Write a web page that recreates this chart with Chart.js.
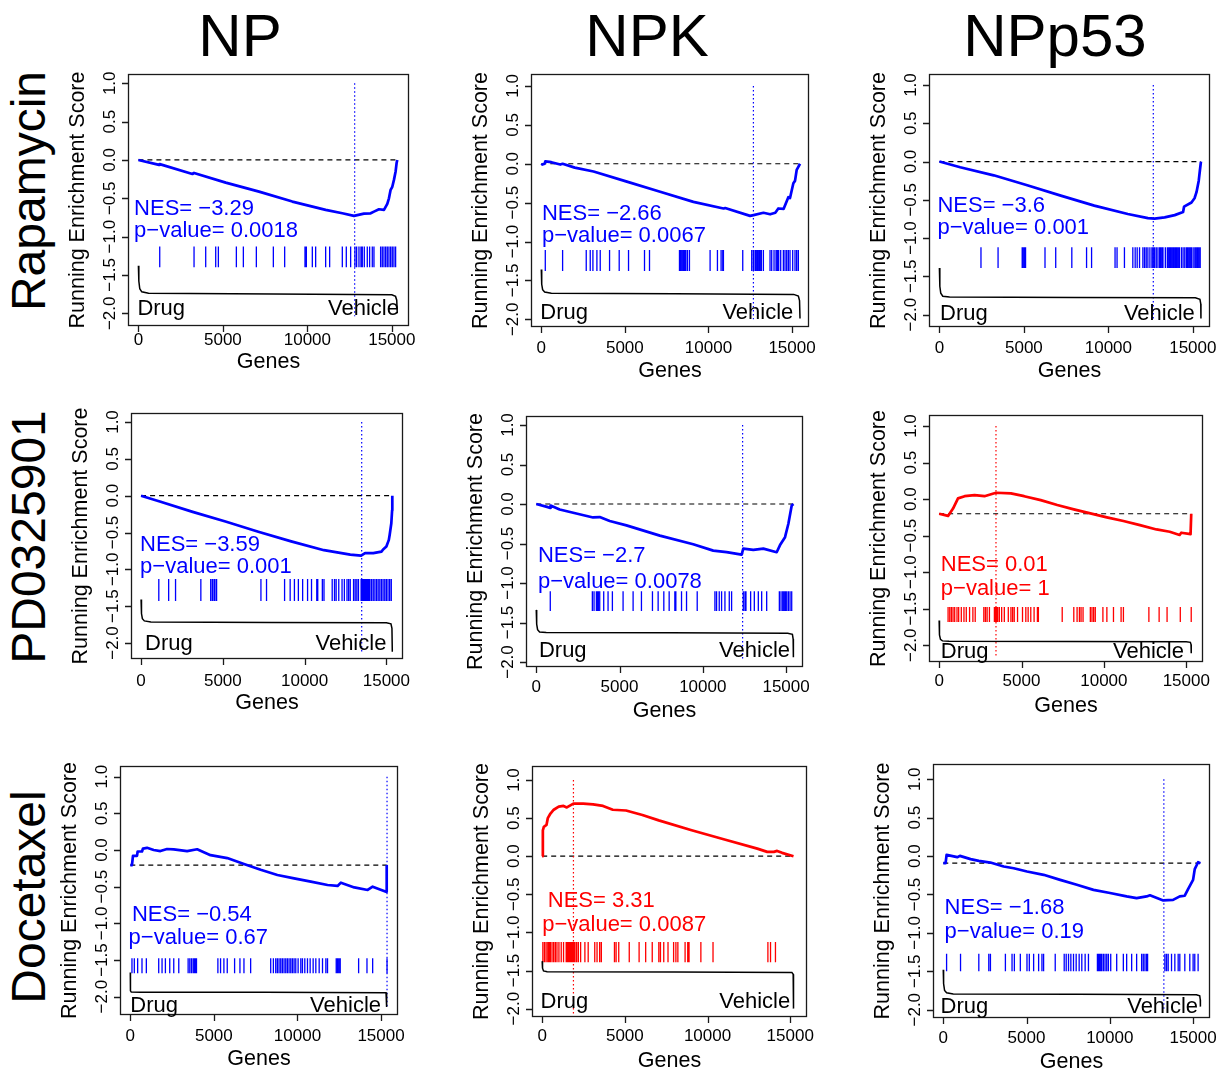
<!DOCTYPE html>
<html><head><meta charset="utf-8">
<script src="https://cdn.jsdelivr.net/npm/chart.js@4/dist/chart.umd.min.js"></script>
<style>
html,body{margin:0;padding:0;background:#fff;}
body{width:1220px;height:1072px;position:relative;overflow:hidden;font-family:"Liberation Sans",Arial,Helvetica,sans-serif;color:#000;}
canvas{position:absolute;}
.col{position:absolute;font-size:60px;line-height:60px;white-space:nowrap;transform:translateX(-50%);}
.row{position:absolute;font-size:48px;line-height:48px;white-space:nowrap;transform:translate(-50%,-50%) rotate(-90deg);}
</style>
</head><body>
<script>
// ---------------- categories & labels ----------------
const columns = ["NP", "NPK", "NPp53"];
const rows = ["Rapamycin", "PD0325901", "Docetaxel"];
const xTickValues = [0, 5000, 10000, 15000];
const yTickValues = [-2, -1.5, -1, -0.5, 0, 0.5, 1];
const yTickLabels = ["\u22122.0", "\u22121.5", "\u22121.0", "\u22120.5", "0.0", "0.5", "1.0"];
const nesLabels = ["NES= \u22123.29", "NES= \u22122.66", "NES= \u22123.6", "NES= \u22123.59", "NES= \u22122.7", "NES= 0.01", "NES= \u22120.54", "NES= 3.31", "NES= \u22121.68"];
const pLabels = ["p\u2212value= 0.0018", "p\u2212value= 0.0067", "p\u2212value= 0.001", "p\u2212value= 0.001", "p\u2212value= 0.0078", "p\u2212value= 1", "p\u2212value= 0.67", "p\u2212value= 0.0087", "p\u2212value= 0.19"];
const enrichedIn = ["Vehicle", "Vehicle", "Vehicle", "Vehicle", "Vehicle", "Drug", "Vehicle", "Drug", "Vehicle"];
const peakGene = [12800, 12690, 12660, 13490, 12390, 3450, 15360, 1890, 13245];
const zeroLevel = [0, 0, 0, 0, 0, -0.20, -0.205, 0, -0.092];

// ---------------- running enrichment scores [gene rank, ES] ----------------
const esRapaNP = [[0,0],[1223,-0.065],[1262,-0.055],[3195,-0.183],[3293,-0.17],[5167,-0.296],[7139,-0.413],[9110,-0.543],[11083,-0.652],[12069,-0.696],[12759,-0.73],[13350,-0.70],[13745,-0.696],[13942,-0.674],[14238,-0.643],[14534,-0.652],[14731,-0.574],[14829,-0.50],[14928,-0.39],[15027,-0.35],[15125,-0.26],[15224,-0.15],[15283,-0.04],[15322,0]];
const esRapaNPK = [[0,0],[60,-0.01],[200,0.0],[240,0.03],[600,0.02],[1135,-0.01],[1275,0.0],[2000,-0.05],[3127,-0.10],[5120,-0.23],[7110,-0.36],[9100,-0.49],[10900,-0.575],[11000,-0.57],[12490,-0.67],[12700,-0.66],[13290,-0.63],[13690,-0.65],[14000,-0.63],[14180,-0.575],[14500,-0.58],[14780,-0.43],[14880,-0.44],[15080,-0.25],[15179,-0.22],[15279,-0.08],[15378,-0.04],[15478,0]];
const esRapaNPp53 = [[0,0],[1230,-0.074],[3214,-0.18],[5198,-0.31],[7182,-0.445],[9166,-0.576],[11150,-0.686],[12340,-0.74],[12737,-0.745],[13332,-0.73],[13927,-0.70],[14423,-0.66],[14480,-0.59],[14919,-0.535],[15100,-0.48],[15217,-0.40],[15350,-0.25],[15416,-0.12],[15480,0]];
const esPdNP = [[0,0],[1145,-0.08],[3153,-0.22],[5161,-0.35],[7169,-0.49],[9177,-0.62],[11185,-0.74],[12791,-0.80],[13454,-0.815],[13695,-0.78],[14197,-0.78],[14699,-0.76],[14800,-0.73],[15000,-0.69],[15150,-0.60],[15202,-0.53],[15302,-0.375],[15350,-0.2],[15362,0]];
const esPdNPK = [[0,0],[700,-0.04],[842,-0.05],[860,-0.02],[1404,-0.07],[2406,-0.12],[3409,-0.17],[3810,-0.165],[4411,-0.215],[5414,-0.27],[7419,-0.40],[9424,-0.51],[10627,-0.59],[11429,-0.61],[12331,-0.64],[12431,-0.565],[13033,-0.58],[13634,-0.565],[14436,-0.61],[14637,-0.52],[14937,-0.42],[15138,-0.25],[15338,-0.02],[15439,0]];
const esPdNPp53 = [[0,-0.20],[542,-0.23],[843,-0.13],[1145,0.01],[1546,0.04],[2149,0.055],[2751,0.04],[3454,0.087],[4357,0.078],[5161,0.04],[6165,-0.014],[7169,-0.08],[8173,-0.14],[9177,-0.196],[10180,-0.25],[11185,-0.30],[12189,-0.356],[13193,-0.415],[13996,-0.447],[14598,-0.49],[14699,-0.46],[15261,-0.48],[15302,-0.20]];
const esDoceNP = [[0,-0.205],[100,-0.205],[160,-0.08],[400,-0.08],[440,-0.02],[700,-0.02],[760,0.02],[1000,0.03],[1400,0.0],[1800,-0.014],[2200,0.014],[2600,0.01],[3400,-0.014],[4000,0.01],[4800,-0.07],[5800,-0.11],[6800,-0.19],[7800,-0.27],[8800,-0.34],[9800,-0.386],[10800,-0.43],[11800,-0.477],[12400,-0.49],[12600,-0.445],[13400,-0.51],[14200,-0.545],[14500,-0.50],[15300,-0.57],[15340,-0.205]];
const esDoceNPK = [[0,0],[40,0.34],[100,0.386],[260,0.41],[340,0.50],[500,0.56],[700,0.61],[1000,0.65],[1290,0.66],[1490,0.64],[1890,0.69],[2480,0.69],[3080,0.68],[3680,0.66],[4270,0.61],[5070,0.60],[6060,0.54],[7050,0.47],[9040,0.34],[11030,0.22],[13010,0.10],[13610,0.057],[14010,0.057],[14210,0.07],[14510,0.044],[15200,0]];
const esDoceNPp53 = [[0,-0.092],[140,-0.092],[200,0.016],[840,-0.014],[1000,0.003],[1640,-0.04],[2135,-0.062],[2830,-0.084],[3630,-0.136],[4230,-0.158],[5030,-0.20],[6025,-0.244],[7020,-0.31],[8020,-0.374],[9020,-0.44],[10015,-0.48],[11010,-0.525],[11610,-0.547],[12210,-0.525],[12410,-0.51],[13210,-0.577],[13800,-0.57],[14200,-0.525],[14500,-0.516],[14700,-0.43],[15000,-0.31],[15100,-0.17],[15300,-0.08],[15440,-0.092]];

// ---------------- gene-set hit positions (rank) ----------------
const hitsRapaNP = [1262,3293,3983,4575,4733,5798,6212,6981,7987,8657,9860,9939,10294,10491,11083,11319,12069,12305,12562,12818,12917,13055,13173,13252,13370,13547,13686,13843,13942,14336,14435,14534,14632,14731,14829,14928,15027,15125,15224];
const hitsRapaNPK = [239,1275,2689,2928,3088,3327,3526,4084,4661,5219,6175,6474,8267,8346,8426,8506,8566,8645,8745,8864,10099,10538,10757,10856,10896,12052,12589,12689,12789,12848,12928,13008,13087,13167,13287,13685,13785,13924,14044,14124,14203,14323,14482,14581,14681,14781,14880,15040,15179,15279,15378];
const hitsRapaNPp53 = [2460,3472,4900,4960,5039,5099,6250,6884,7837,8710,9007,10396,10515,10952,11448,11587,11706,11845,12043,12142,12241,12340,12459,12578,12658,12737,12836,12935,13034,13094,13174,13233,13372,13491,13571,13630,13690,13769,13848,13927,13987,14047,14126,14205,14324,14423,14522,14622,14681,14761,14840,14919,15019,15118,15197,15277,15356,15436];
const hitsPdNP = [1084,1687,2108,3655,4257,4357,4458,4518,4618,7329,7671,8775,9116,9377,9618,9879,10181,10422,10743,10803,11084,11185,11687,11827,11928,12088,12289,12430,12591,12691,12791,12992,13092,13193,13293,13454,13514,13554,13594,13634,13674,13715,13755,13795,13855,13915,13996,14096,14197,14297,14398,14498,14598,14699,14799,14900,15000,15100,15201,15301];
const hitsPdNPK = [842,3368,3469,3609,3669,3729,3810,4050,4311,4571,5213,5815,6316,6977,7318,7659,7980,8321,8381,8722,9023,9664,10727,10827,10987,11128,11329,11589,11729,12431,12531,12591,12872,13093,13333,13534,13835,14596,14697,14797,14877,14957,15038,15138,15238,15338];
const hitsPdNPp53 = [542,643,743,843,944,1084,1185,1345,1506,1647,1847,2048,2189,2711,2811,2912,3052,3353,3414,3474,3554,3655,3795,3956,4197,4357,4458,4558,4759,5060,5261,5402,5562,5763,5964,6024,7470,8173,8373,8514,8614,8735,9177,9277,9377,9478,9940,10181,10582,11044,11185,12731,13353,13835,14638,15301];
const hitsDoceNP = [100,240,440,700,960,1700,1900,2100,2360,2600,2900,3460,3560,3660,3760,3840,3900,3960,5240,5400,5600,5800,6240,6560,6800,7200,8400,8560,8700,8800,8900,9000,9100,9200,9300,9400,9500,9600,9700,9800,9900,10040,10200,10300,10440,10600,10760,10940,11100,11300,11500,11700,11800,12320,12400,12480,12560,13660,14160,14500,15360];
const hitsDoceNPK = [40,139,238,338,417,497,596,695,795,894,1013,1152,1292,1451,1530,1609,1689,1768,1828,1908,1987,2086,2186,2325,2583,2782,3179,3318,3477,3577,4371,4471,4630,5266,5862,6259,6656,7054,7153,7352,7610,7948,8087,8206,8643,8802,8882,9597,10332,13651,13810,14108];
const hitsDoceNPp53 = [200,1037,2135,2733,2833,3731,4130,4269,4628,5027,5167,5426,5726,5925,6025,6723,7262,7382,7521,7661,7820,7980,8160,8319,8519,8718,9256,9316,9376,9456,9516,9616,9715,9815,9915,10055,10414,10813,11012,11312,11611,11910,12010,12110,12209,12269,13307,13406,13506,13706,13905,14105,14204,14504,14803,15002,15102,15302];

// ---------------- ranked-list metric curve (Drug ... Vehicle) ----------------
const metricRapaNP = [[0,-1.38],[25,-1.58],[80,-1.68],[200,-1.72],[600,-1.74],[8000,-1.75],[15000,-1.76],[15220,-1.78],[15290,-1.83],[15322,-2.0]];
const metricRapaNPK = [[0,-1.36],[25,-1.55],[80,-1.62],[200,-1.65],[600,-1.665],[8000,-1.67],[15100,-1.68],[15380,-1.70],[15450,-1.76],[15478,-1.99]];
const metricRapaNPp53 = [[0,-1.39],[25,-1.63],[80,-1.72],[200,-1.76],[600,-1.77],[8000,-1.775],[15150,-1.78],[15420,-1.80],[15470,-1.86],[15480,-2.05]];
const metricPdNP = [[0,-1.41],[25,-1.60],[80,-1.67],[200,-1.70],[600,-1.715],[8000,-1.72],[15000,-1.725],[15280,-1.74],[15340,-1.80],[15362,-2.12]];
const metricPdNPK = [[0,-1.34],[25,-1.52],[80,-1.59],[200,-1.62],[600,-1.625],[8000,-1.63],[15100,-1.635],[15380,-1.65],[15425,-1.71],[15439,-1.94]];
const metricPdNPp53 = [[0,-1.66],[20,-1.86],[80,-1.92],[200,-1.94],[600,-1.945],[8000,-1.95],[15000,-1.952],[15250,-1.96],[15290,-1.99],[15302,-2.11]];
const metricDoceNP = [[0,-1.67],[10,-1.92],[60,-1.937],[600,-1.94],[8000,-1.94],[15300,-1.945],[15330,-1.96],[15340,-2.14]];
const metricDoceNPK = [[0,-1.377],[20,-1.47],[80,-1.505],[300,-1.515],[8000,-1.52],[15100,-1.525],[15180,-1.55],[15200,-2.0]];
const metricDoceNPp53 = [[0,-1.48],[20,-1.66],[80,-1.75],[200,-1.78],[600,-1.795],[8000,-1.80],[15200,-1.805],[15400,-1.82],[15432,-1.87],[15440,-1.96]];

// ---------------- layout (pixels / positions, not data) ----------------
const xRange = [-616, 16016];
const layoutCfg = [
  {l:128,t:74, r:409, b:326, ymin:-2.166,ymax:1.121, hitTop:-1.13, hitBot:-1.40, nesX:-256,nesY:-0.61, pX:-256,pY:-0.935, drugX:-60, vehX:15420, dvOff:11, xGap:6,  genesOff:42, dotBot:-2.04},
  {l:531,t:74, r:809, b:327, ymin:-2.099,ymax:1.154, hitTop:-1.11, hitBot:-1.38, nesX:40,  nesY:-0.62, pX:40,  pY:-0.94,  drugX:-60, vehX:15080, dvOff:8,  xGap:13, genesOff:50, dotBot:-2.0},
  {l:929,t:74, r:1210,b:327, ymin:-2.162,ymax:1.144, hitTop:-1.12, hitBot:-1.39, nesX:-119,nesY:-0.554,pX:-119,pY:-0.88,  drugX:40,  vehX:15118, dvOff:7,  xGap:13, genesOff:50, dotBot:-2.05},
  {l:131,t:413,r:403, b:659, ymin:-2.217,ymax:1.122, hitTop:-1.13, hitBot:-1.43, nesX:-60, nesY:-0.64, pX:-60, pY:-0.986, drugX:240, vehX:15000, dvOff:9,  xGap:14, genesOff:50, dotBot:-2.12},
  {l:526,t:416,r:803, b:667, ymin:-2.063,ymax:1.114, hitTop:-1.105,hitBot:-1.354,nesX:100, nesY:-0.63, pX:100, pY:-1.0,   drugX:160, vehX:15238, dvOff:10, xGap:12, genesOff:50, dotBot:-1.96},
  {l:929,t:415,r:1203,b:662, ymin:-2.229,ymax:1.151, hitTop:-1.475,hitBot:-1.68, nesX:100, nesY:-0.88, pX:100, pY:-1.25,  drugX:100, vehX:14860, dvOff:4,  xGap:11, genesOff:50, dotBot:-2.14},
  {l:120,t:766,r:398, b:1015,ymin:-2.25, ymax:1.146, hitTop:-1.477,hitBot:-1.68, nesX:100, nesY:-0.855,pX:-100,pY:-1.22,  drugX:0,   vehX:15000, dvOff:3,  xGap:13, genesOff:50, dotBot:-2.14},
  {l:532,t:766,r:807, b:1017,ymin:-2.11, ymax:1.184, hitTop:-1.127,hitBot:-1.39, nesX:338, nesY:-0.566,pX:0,   pY:-0.91,  drugX:-100,vehX:15000, dvOff:9,  xGap:11, genesOff:50, dotBot:-2.07},
  {l:933,t:764,r:1210,b:1018,ymin:-2.108,ymax:1.199, hitTop:-1.27, hitBot:-1.50, nesX:80,  nesY:-0.656,pX:80,  pY:-1.0,   drugX:-160,vehX:15302, dvOff:5,  xGap:12, genesOff:50, dotBot:-2.0}
];
const colCenters = [240, 647, 1055];
const rowCenters = [191, 537, 897];

const esSets = [esRapaNP, esRapaNPK, esRapaNPp53, esPdNP, esPdNPK, esPdNPp53, esDoceNP, esDoceNPK, esDoceNPp53];
const hitSets = [hitsRapaNP, hitsRapaNPK, hitsRapaNPp53, hitsPdNP, hitsPdNPK, hitsPdNPp53, hitsDoceNP, hitsDoceNPK, hitsDoceNPp53];
const metricSets = [metricRapaNP, metricRapaNPK, metricRapaNPp53, metricPdNP, metricPdNPK, metricPdNPp53, metricDoceNP, metricDoceNPK, metricDoceNPp53];

const FONT = '"Liberation Sans", Arial, Helvetica, sans-serif';
const BLUE = '#0000ff', RED = '#ff0000';

// headers
columns.forEach((c, i) => {
  const d = document.createElement('div');
  d.className = 'col'; d.textContent = c;
  d.style.left = colCenters[i] + 'px';
  d.style.top = (57 - 0.8465 * 60) + 'px';
  document.body.appendChild(d);
});
rows.forEach((r, i) => {
  const d = document.createElement('div');
  d.className = 'row'; d.textContent = r;
  d.style.left = '29px';
  d.style.top = rowCenters[i] + 'px';
  document.body.appendChild(d);
});

const decoPlugin = {
  id: 'gseaDeco',
  afterDatasetsDraw(chart, args, o) {
    const ctx = chart.ctx, a = chart.chartArea, xs = chart.scales.x, ys = chart.scales.y;
    ctx.save();
    // box
    ctx.strokeStyle = '#1a1a1a'; ctx.lineWidth = 1.3; ctx.setLineDash([]);
    ctx.strokeRect(a.left + 0.5, a.top + 0.5, a.right - a.left - 1, a.bottom - a.top - 1);
    // x ticks
    ctx.fillStyle = '#000';
    ctx.font = '17px ' + FONT;
    ctx.textAlign = 'center'; ctx.textBaseline = 'alphabetic';
    ctx.beginPath();
    xTickValues.forEach(v => {
      const px = Math.round(xs.getPixelForValue(v)) + 0.5;
      ctx.moveTo(px, a.bottom); ctx.lineTo(px, a.bottom + 6);
    });
    ctx.stroke();
    xTickValues.forEach(v => {
      ctx.fillText(String(v), xs.getPixelForValue(v), a.bottom + o.xGap + 12.5);
    });
    // y ticks
    ctx.beginPath();
    yTickValues.forEach(v => {
      const py = Math.round(ys.getPixelForValue(v)) + 0.5;
      ctx.moveTo(a.left - 6, py); ctx.lineTo(a.left, py);
    });
    ctx.stroke();
    yTickValues.forEach((v, i) => {
      ctx.save();
      ctx.translate(a.left - 13, ys.getPixelForValue(v));
      ctx.rotate(-Math.PI / 2);
      ctx.fillText(yTickLabels[i], 0, 0);
      ctx.restore();
    });
    // axis titles
    ctx.font = '21.5px ' + FONT;
    ctx.fillText('Genes', (a.left + a.right) / 2, a.bottom + o.genesOff);
    ctx.save();
    ctx.translate(a.left - 44, (a.top + a.bottom) / 2);
    ctx.rotate(-Math.PI / 2);
    ctx.fillText('Running Enrichment Score', 0, 0);
    ctx.restore();
    // NES / p-value
    ctx.font = '22px ' + FONT;
    ctx.textAlign = 'left';
    ctx.fillStyle = o.color;
    ctx.fillText(o.nes, xs.getPixelForValue(o.nesX), ys.getPixelForValue(o.nesY) + 8);
    ctx.fillText(o.pval, xs.getPixelForValue(o.pX), ys.getPixelForValue(o.pY) + 5);
    // Drug / Vehicle
    ctx.fillStyle = '#000';
    ctx.fillText('Drug', xs.getPixelForValue(o.drugX), a.bottom - o.dvOff);
    ctx.textAlign = 'right';
    ctx.fillText('Vehicle', xs.getPixelForValue(o.vehX), a.bottom - o.dvOff);
    ctx.restore();
  }
};

const PADL = 90, PADT = 10, PADR = 10, PADB = 60;

layoutCfg.forEach((L, i) => {
  const cv = document.createElement('canvas');
  const w = (L.r - L.l) + PADL + PADR, h = (L.b - L.t) + PADT + PADB;
  cv.width = w; cv.height = h;
  cv.style.left = (L.l - PADL) + 'px'; cv.style.top = (L.t - PADT) + 'px';
  cv.style.width = w + 'px'; cv.style.height = h + 'px';
  document.body.appendChild(cv);

  const color = enrichedIn[i] === 'Drug' ? RED : BLUE;
  const es = esSets[i].map(p => ({x: p[0], y: p[1]}));
  const nEnd = esSets[i][esSets[i].length - 1][0];
  const hitPts = [];
  hitSets[i].forEach(g => { hitPts.push({x: g, y: L.hitTop}, {x: g, y: L.hitBot}, {x: g, y: null}); });
  const metric = metricSets[i].map(p => ({x: p[0], y: p[1]}));

  new Chart(cv, {
    type: 'line',
    data: {
      datasets: [
        {data: [{x: 0, y: zeroLevel[i]}, {x: nEnd, y: zeroLevel[i]}], borderColor: '#000', borderWidth: 1.2, borderDash: [5, 4], pointRadius: 0, order: 5},
        {data: [{x: peakGene[i], y: 1.0}, {x: peakGene[i], y: L.dotBot}], borderColor: color, borderWidth: 1.2, borderDash: [1.5, 2.5], pointRadius: 0, order: 4},
        {data: hitPts, borderColor: color, borderWidth: 1.3, pointRadius: 0, spanGaps: false, order: 3},
        {data: metric, borderColor: '#000', borderWidth: 1.5, pointRadius: 0, order: 2},
        {data: es, borderColor: color, borderWidth: 2.7, pointRadius: 0, order: 1, borderJoinStyle: 'round'}
      ]
    },
    options: {
      responsive: false, animation: false, devicePixelRatio: 1,
      layout: {padding: {left: PADL, top: PADT, right: PADR, bottom: PADB}},
      scales: {
        x: {type: 'linear', min: xRange[0], max: xRange[1], display: false},
        y: {type: 'linear', min: L.ymin, max: L.ymax, display: false}
      },
      elements: {line: {tension: 0}},
      plugins: {
        legend: {display: false}, tooltip: {enabled: false},
        gseaDeco: Object.assign({}, L, {color: color, nes: nesLabels[i], pval: pLabels[i]})
      }
    },
    plugins: [decoPlugin]
  });
});
</script>
</body></html>
